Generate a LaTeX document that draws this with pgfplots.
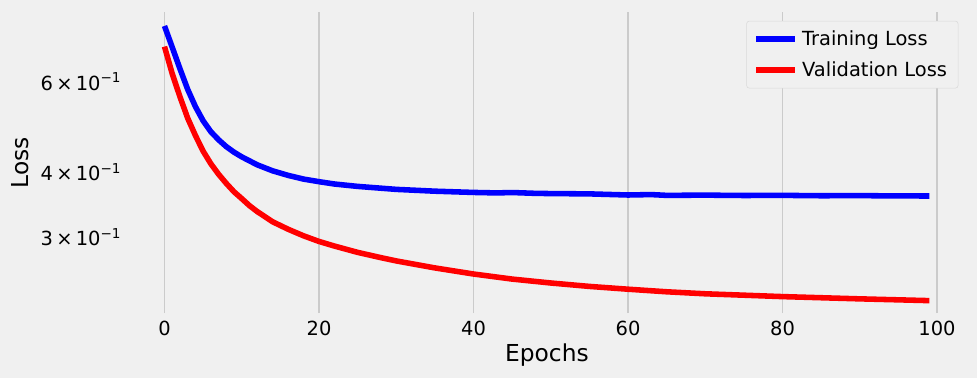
\documentclass[border=0pt]{standalone}
\usepackage{pgfplots}
\pgfplotsset{compat=1.18}
\usepackage{fontspec}
\setmainfont{DejaVu Sans}
\definecolor{bg}{HTML}{F0F0F0}
\definecolor{gridc}{HTML}{CBCBCB}
\begin{document}
\begin{tikzpicture}
\path[use as bounding box, fill=bg] (-90.9pt,-46.8pt) rectangle (612.5pt,225.4pt);
\begin{axis}[
  at={(0,0)}, anchor=south west,
  scale only axis,
  width=605.7pt, height=216.7pt,
  xmin=-4.95, xmax=103.95,
  ymode=log, ymin=0.2135, ymax=0.819,
  xtick={0,20,40,60,80,100},
  ytick={0.3,0.4,0.6},
  yticklabels={{3\,×\,10\textsuperscript{−1}},{4\,×\,10\textsuperscript{−1}},{6\,×\,10\textsuperscript{−1}}},
  minor ytick={},
  /pgf/number format/assume math mode=true,
  ticklabel style={font=\fontsize{14pt}{16pt}\selectfont, text=black},
  xticklabel style={yshift=-2pt},
  xmajorgrids, ymajorgrids=false,
  grid style={gridc, line width=1pt},
  axis line style={draw=none},
  major tick style={draw=none}, minor tick style={draw=none},
  axis background/.style={fill=bg},
  xlabel={Epochs}, ylabel={Loss},
  every axis x label/.style={at={(axis description cs:0.5,-0.1395)}, anchor=center, font=\fontsize{16.8pt}{19pt}\selectfont},
  every axis y label/.style={at={(axis description cs:-0.1263,0.5)}, anchor=center, rotate=90, font=\fontsize{16.8pt}{19pt}\selectfont},
  legend style={at={(rel axis cs:1,1)}, anchor=north east, xshift=-6.6pt, yshift=-6.3pt,
    font=\fontsize{14pt}{16pt}\selectfont, draw=gray!30, fill=bg, rounded corners=2pt,
    inner xsep=5pt, inner ysep=4pt, row sep=4pt, nodes={inner sep=3pt},
    /tikz/every even column/.append style={column sep=8pt}},
  legend cell align=left,
  legend image code/.code={\draw[#1, line width=4pt] (0pt,0pt) -- (28pt,0pt);},
  every axis plot/.append style={line join=round},
]
\addplot[blue, line width=4pt] coordinates {
(0,0.770) (1,0.700) (2,0.636) (3,0.580) (4,0.537) (5,0.504) (6,0.480) (7,0.463) (8,0.449) (9,0.438) (10,0.429)
(12,0.414) (14,0.403) (16,0.395) (18,0.3885) (20,0.384) (22,0.380) (25,0.376) (28,0.373) (30,0.371)
(35,0.368) (40,0.366) (43,0.3652) (45,0.3658) (48,0.3645) (50,0.3641) (55,0.3636) (60,0.3618) (63,0.3625)
(65,0.3612) (70,0.3616) (75,0.3610) (80,0.3612) (85,0.3606) (90,0.3608) (95,0.3603) (99,0.3602)
};
\addlegendentry{Training Loss}
\addplot[red, line width=4pt] coordinates {
(0,0.702) (1,0.622) (2,0.561) (3,0.510) (4,0.472) (5,0.440) (6,0.416) (7,0.397) (8,0.381) (9,0.367) (10,0.356)
(11,0.345) (12,0.336) (14,0.321) (16,0.3105) (18,0.3015) (20,0.294) (22,0.288) (25,0.280) (28,0.2735) (30,0.2695)
(35,0.2612) (40,0.2542) (45,0.2485) (50,0.2442) (55,0.2405) (60,0.2375) (65,0.2348) (70,0.2327) (80,0.2298)
(90,0.2275) (99,0.2257)
};
\addlegendentry{Validation Loss}
\end{axis}
\end{tikzpicture}
\end{document}
